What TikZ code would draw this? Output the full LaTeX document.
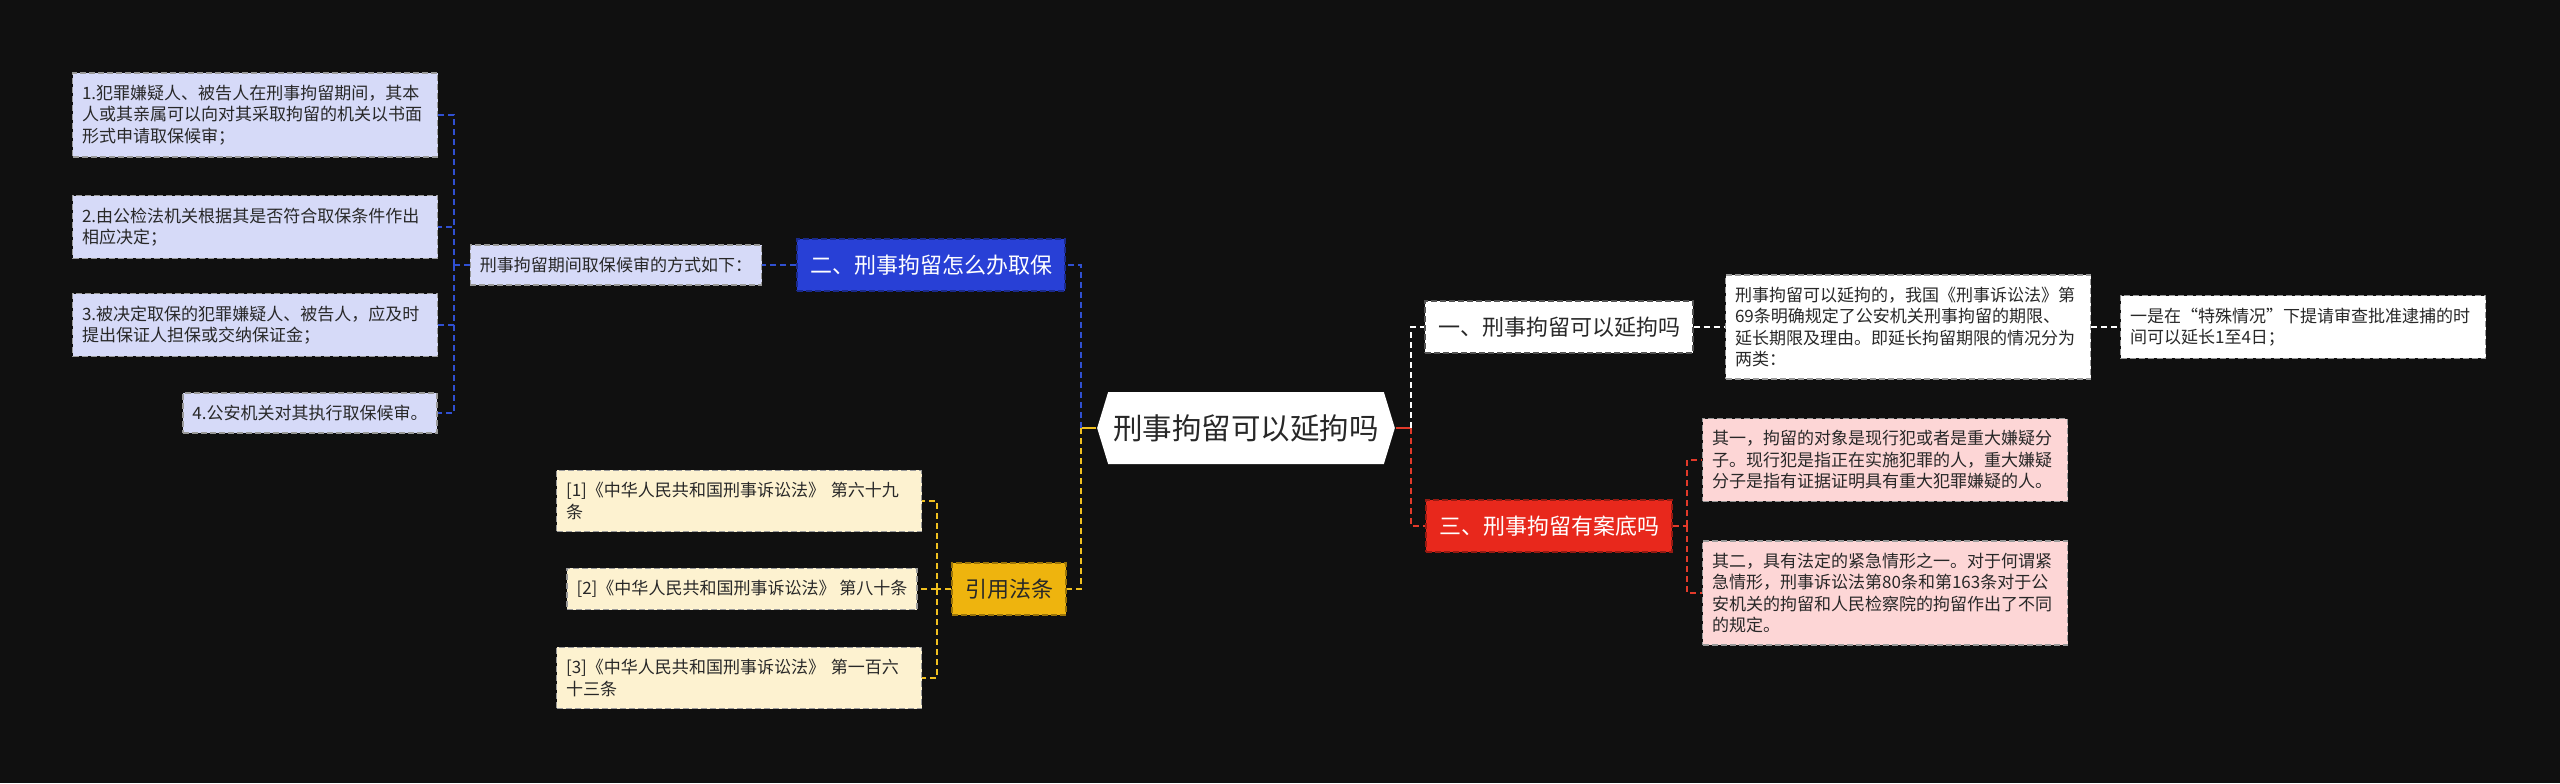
\documentclass[tikz,border=0pt]{standalone}
\usepackage{fontspec}
\setmainfont{Noto Sans CJK SC}
\usepackage{tikz}
\usetikzlibrary{positioning,shapes.symbols}
\definecolor{bgdark}{RGB}{16,16,16}
\definecolor{txtdark}{RGB}{40,40,40}
\definecolor{cblue}{RGB}{40,64,214}
\definecolor{clav}{RGB}{214,218,248}
\definecolor{cyel}{RGB}{238,180,14}
\definecolor{ccream}{RGB}{253,242,208}
\definecolor{cred}{RGB}{232,40,28}
\definecolor{cpink}{RGB}{253,214,214}
\definecolor{lblue}{RGB}{48,80,210}
\definecolor{lyel}{RGB}{240,192,32}
\definecolor{lred}{RGB}{226,58,42}
\tikzset{
  mainnd/.style={signal, signal to=west and east, signal pointer angle=146, fill=white,
    text=txtdark, inner xsep=0.5mm, minimum height=7.2mm, font=\fontsize{8.4pt}{10pt}\selectfont},
  subnd/.style={rectangle, draw=#1!65!black, dash pattern=on 0.6mm off 0.3mm, line width=0.4pt,
    inner xsep=1.3mm, inner ysep=0pt, minimum height=5.2mm, font=\fontsize{6.26pt}{7.5pt}\selectfont},
  leafnd/.style={rectangle, draw=gray!80, dash pattern=on 0.6mm off 0.3mm, line width=0.4pt,
    text=txtdark, align=left, inner xsep=0.95mm, inner ysep=1.2mm, font=\fontsize{4.84pt}{6.12pt}\selectfont},
  widend/.style={text width=34.6mm},
  bcon/.style={lblue, line width=0.55pt, dash pattern=on 0.6mm off 0.4mm},
  ycon/.style={lyel, line width=0.55pt, dash pattern=on 0.6mm off 0.4mm},
  wcon/.style={white, line width=0.55pt, dash pattern=on 0.6mm off 0.4mm},
  rcon/.style={lred, line width=0.55pt, dash pattern=on 0.6mm off 0.4mm},
}
\begin{document}
\begin{tikzpicture}[x=0.1mm,y=-0.1mm]
\fill[bgdark] (0,0) rectangle (2560,783);
\useasboundingbox (0,0) rectangle (2560,783);

\node[mainnd] (root) at (1246,428) {刑事拘留可以延拘吗};

% left side
\node[subnd=cblue, fill=cblue, text=white] (qubao) at (931,265) {二、刑事拘留怎么办取保};
\node[leafnd, fill=clav] (fangshi) at (616,265) {刑事拘留期间取保候审的方式如下：};
\node[leafnd, fill=clav, widend] (l1) at (255,115) {1.犯罪嫌疑人、被告人在刑事拘留期间，其本\\人或其亲属可以向对其采取拘留的机关以书面\\形式申请取保候审；};
\node[leafnd, fill=clav, widend] (l2) at (255,227) {2.由公检法机关根据其是否符合取保条件作出\\相应决定；};
\node[leafnd, fill=clav, widend] (l3) at (255,325) {3.被决定取保的犯罪嫌疑人、被告人，应及时\\提出保证人担保或交纳保证金；};
\node[leafnd, fill=clav] (l4) at (310,413) {4.公安机关对其执行取保候审。};

\node[subnd=cyel, fill=cyel, text=txtdark] (fatiao) at (1009,589) {引用法条};
\node[leafnd, fill=ccream, widend] (f1) at (739,501) {[1]《中华人民共和国刑事诉讼法》 第六十九\\条};
\node[leafnd, fill=ccream] (f2) at (742,589) {[2]《中华人民共和国刑事诉讼法》 第八十条};
\node[leafnd, fill=ccream, widend] (f3) at (739,678) {[3]《中华人民共和国刑事诉讼法》 第一百六\\十三条};

% right side
\node[subnd=gray, fill=white, text=txtdark] (yanju) at (1559,327) {一、刑事拘留可以延拘吗};
\node[leafnd, fill=white, widend] (r1) at (1908,327) {刑事拘留可以延拘的，我国《刑事诉讼法》第\\69条明确规定了公安机关刑事拘留的期限、\\延长期限及理由。即延长拘留期限的情况分为\\两类：};
\node[leafnd, fill=white, widend] (r2) at (2303,327) {一是在“特殊情况”下提请审查批准逮捕的时\\间可以延长1至4日；};

\node[subnd=cred, fill=cred, text=white] (andi) at (1549,526) {三、刑事拘留有案底吗};
\node[leafnd, fill=cpink, widend] (p1) at (1885,460) {其一，拘留的对象是现行犯或者是重大嫌疑分\\子。现行犯是指正在实施犯罪的人，重大嫌疑\\分子是指有证据证明具有重大犯罪嫌疑的人。};
\node[leafnd, fill=cpink, widend] (p2) at (1885,593) {其二，具有法定的紧急情形之一。对于何谓紧\\急情形，刑事诉讼法第80条和第163条对于公\\安机关的拘留和人民检察院的拘留作出了不同\\的规定。};

\coordinate (jl) at (1081,428);
\coordinate (jr) at (1411,428);
\coordinate (jb) at (454,265);
\coordinate (jy) at (937,589);
\coordinate (jp) at (1687,526);

\draw[lyel, line width=0.55pt] (root.west) -- (jl);
\draw[bcon] (jl) |- (qubao.east);
\draw[ycon] (jl) |- (fatiao.east);
\draw[bcon] (qubao.west) -- (fangshi.east);
\draw[bcon] (fangshi.west) -- (jb);
\foreach \n in {l1,l2,l3,l4}
  \draw[bcon] (jb) |- (\n.east);
\draw[ycon] (fatiao.west) -- (jy);
\foreach \n in {f1,f2,f3}
  \draw[ycon] (jy) |- (\n.east);

\draw[lred, line width=0.55pt] (root.east) -- (jr);
\draw[wcon] (jr) |- (yanju.west);
\draw[rcon] (jr) |- (andi.west);
\draw[wcon] (yanju.east) -- (r1.west);
\draw[wcon] (r1.east) -- (r2.west);
\draw[rcon] (andi.east) -- (jp);
\foreach \n in {p1,p2}
  \draw[rcon] (jp) |- (\n.west);
\end{tikzpicture}
\end{document}
